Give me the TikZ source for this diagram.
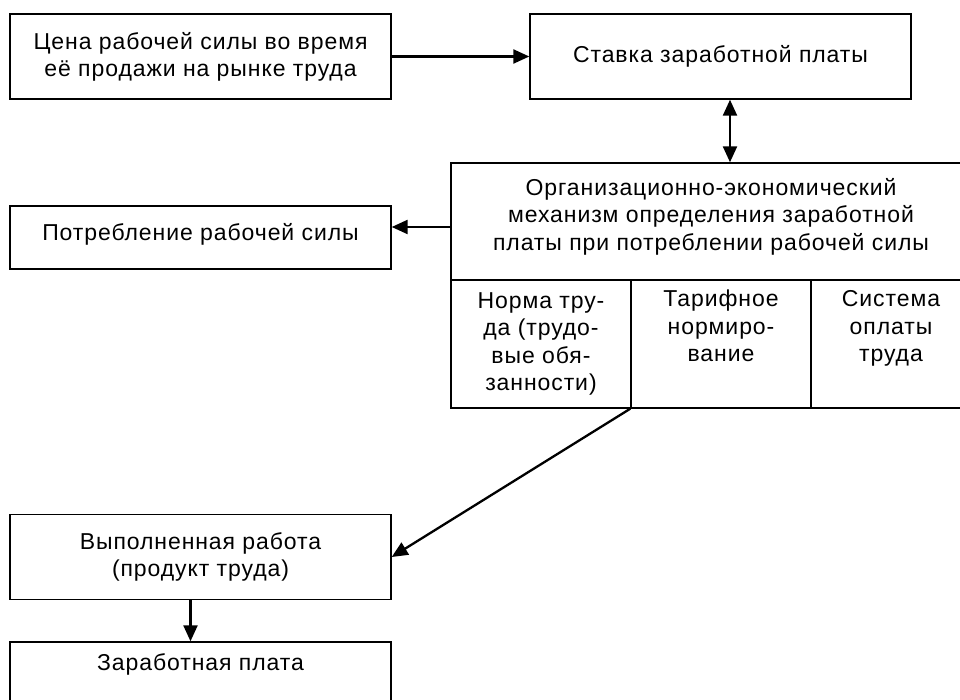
\documentclass[tikz,border=0pt]{standalone}
\usepackage{fontspec}
\setmainfont[LetterSpace=4]{Liberation Sans}
\usetikzlibrary{arrows.meta}
\begin{document}
\begin{tikzpicture}[x=1pt, y=-1pt,
    every node/.style={font=\fontsize{23}{27.5}\selectfont},
    box/.style={draw, rectangle, line width=1.4pt, align=center, inner sep=0pt},
    arr/.style={line width=2.3pt, -{Triangle[length=16pt,width=14pt]}},
    darr/.style={line width=2.3pt, {Triangle[length=16pt,width=14pt]}-{Triangle[length=16pt,width=14pt]}}]
        \useasboundingbox (0,0) rectangle (960,700);
        \clip (0,0) rectangle (960,700);
        % Top row
        \node[box, minimum width=381pt, minimum height=85pt, text depth=4pt] (price) at (200.5, 56.5) {Цена рабочей силы во время\\её продажи на рынке труда};
        \node[box, minimum width=381pt, minimum height=85pt] (rate) at (720.5, 56.5) {Ставка заработной платы};
        
        % Mechanism
        \node[box, minimum width=520pt, minimum height=117pt, text depth=15pt] (mech) at (711, 221.5) {Организационно-экономический\\механизм определения заработной\\платы при потреблении рабочей силы};
        \node[box, minimum width=180pt, minimum height=128pt] (norm) at (541, 344) {Норма тру-\\да (трудо-\\вые обя-\\занности)};
        \node[box, minimum width=180pt, minimum height=128pt] (tariff) at (721, 344) {Тарифное\\нормиро-\\вание\\\strut};
        \node[box, minimum width=160pt, minimum height=128pt] (paysys) at (891, 344) {Система\\оплаты\\труда\\\strut};
        
        % Left column
        \node[box, minimum width=381pt, minimum height=63pt, text depth=12pt] (use) at (200.5, 237.5) {Потребление рабочей силы};
        \node[box, minimum width=381pt, minimum height=85pt] (work) at (200.5, 557) {Выполненная работа\\(продукт труда)};
        \node[box, minimum width=381pt, minimum height=76pt, text depth=36pt] (wage) at (200.5, 680) {Заработная плата};
        
        % Connections
        \draw[arr] (price.east) -- (rate.west);
        \draw[darr] ([xshift=9.5pt]rate.south) -- ([xshift=9.5pt]rate.south |- mech.north);
        \draw[arr] ([yshift=-5.5pt]mech.west) -- ([yshift=-5.5pt]mech.west -| use.east);
        \draw[arr] (tariff.south west) -- (work.east);
        \draw[arr] ([xshift=-10pt]work.south) -- ([xshift=-10pt]work.south |- wage.north);
    \end{tikzpicture}
\end{document}
